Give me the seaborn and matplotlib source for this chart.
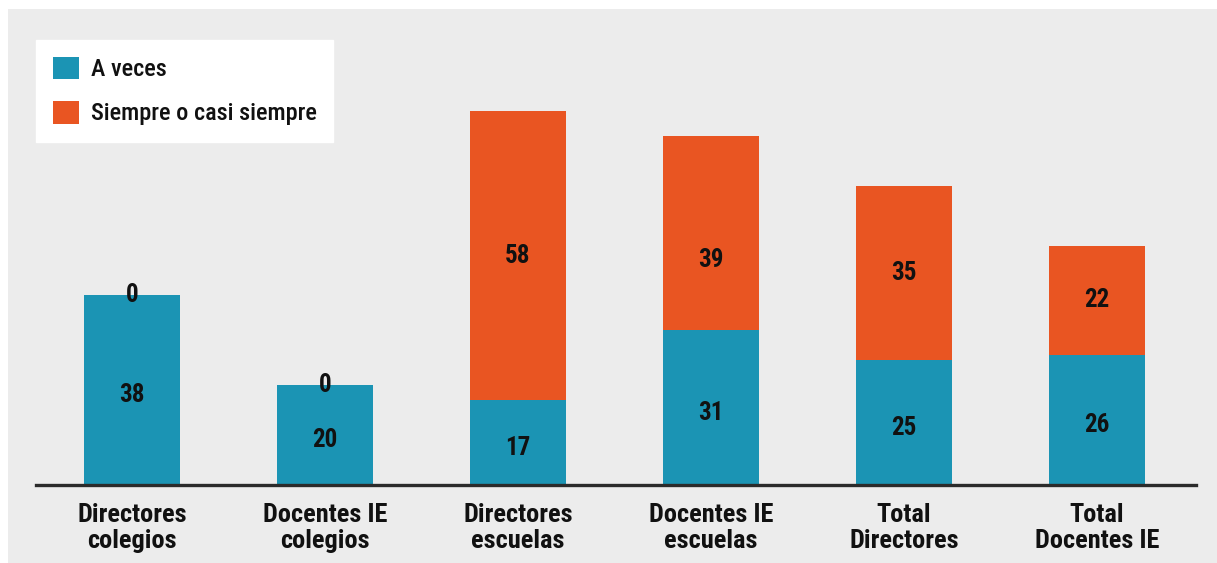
import matplotlib
matplotlib.use("Agg")
import matplotlib.pyplot as plt
from matplotlib.patches import Patch, Rectangle
import pandas as pd
import seaborn as sns

categories = ["Directores\ncolegios", "Docentes IE\ncolegios", "Directores\nescuelas",
              "Docentes IE\nescuelas", "Total\nDirectores", "Total\nDocentes IE"]
a_veces = [38, 20, 17, 31, 25, 26]
siempre = [0, 0, 58, 39, 35, 22]
series_names = ["A veces", "Siempre o casi siempre"]

BLUE = "#1b94b4"
ORANGE = "#e95522"
PANEL = "#ececec"

# vertical nudges (in data units) for a few value labels
upper_label_nudge = {3: -5.4}

sns.set_theme(style="white")
plt.rcParams["font.family"] = ["Roboto Condensed", "DejaVu Sans Condensed",
                               "Roboto", "DejaVu Sans"]

df = pd.DataFrame({
    "cat": categories,
    "a_veces": a_veces,
    "siempre": siempre,
})
df["total"] = df["a_veces"] + df["siempre"]

W, H = 1217, 563
fig = plt.figure(figsize=(W / 100, H / 100), dpi=100, facecolor="white")
# light grey panel behind the chart
fig.patches.append(Rectangle((8 / W, 0), 1 - 8 / W, 1 - 9 / H, transform=fig.transFigure,
                             facecolor=PANEL, edgecolor="none", zorder=-5))

ax = fig.add_axes([36 / W, (H - 485) / H, 1160 / W, 396 / H])
ax.set_facecolor("none")
ax.set_zorder(2)

sns.barplot(data=df, x="cat", y="total", color=ORANGE, width=0.5, saturation=1,
            linewidth=0, ax=ax, zorder=2)
sns.barplot(data=df, x="cat", y="a_veces", color=BLUE, width=0.5, saturation=1,
            linewidth=0, ax=ax, zorder=3)

ax.set_xlim(-0.497, 5.513)
ax.set_ylim(0, 79.4)

for i, (b, s) in enumerate(zip(a_veces, siempre)):
    ax.text(i, b / 2 - 1, f"{b}", ha="center", va="center", fontsize=18,
            fontweight="bold", color="#111111", zorder=5)
    ax.text(i, b + s / 2 + upper_label_nudge.get(i, 0), f"{s}", ha="center",
            va="center", fontsize=18, fontweight="bold", color="#111111", zorder=5)

ax.set_xlabel("")
ax.set_ylabel("")
ax.set_yticks([])
ax.tick_params(axis="x", length=0, pad=13)
for lbl in ax.get_xticklabels():
    lbl.set_fontsize(19)
    lbl.set_fontweight("bold")
    lbl.set_color("#111111")
    lbl.set_linespacing(1.1)

for side in ["top", "right", "left"]:
    ax.spines[side].set_visible(False)
ax.spines["bottom"].set_color("#2b2b2b")
ax.spines["bottom"].set_linewidth(2.4)
ax.spines["bottom"].set_zorder(6)

handles = [Patch(facecolor=BLUE, edgecolor="none", label=series_names[0]),
           Patch(facecolor=ORANGE, edgecolor="none", label=series_names[1])]
leg = fig.legend(handles=handles, loc="upper left",
                 bbox_to_anchor=(36 / W, 1 - 40 / H), bbox_transform=fig.transFigure,
                 frameon=True, fancybox=False, framealpha=1, facecolor="white",
                 edgecolor="white", fontsize=17.5, handlelength=1.07, handleheight=1.07,
                 handletextpad=0.5, labelspacing=0.8, borderpad=0.68, borderaxespad=0)
for t in leg.get_texts():
    t.set_color("#111111")
    t.set_fontweight("medium")

fig.savefig("out.png", dpi=100, facecolor="white")
